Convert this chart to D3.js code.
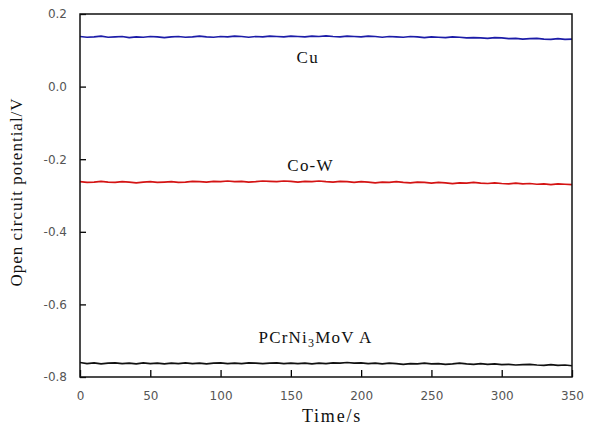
<!DOCTYPE html>
<html>
<head>
<meta charset="utf-8">
<script src="https://cdn.jsdelivr.net/npm/d3@7"></script>
<style>
  body { margin: 0; background: #fff; }
  svg { display: block; }
</style>
</head>
<body>
<svg id="chart" width="597" height="425"></svg>
<script>
// time axis: a reading every 5 s, 0..350
const times = d3.range(0, 351, 5)
const xTicks = [0, 50, 100, 150, 200, 250, 300, 350]
const yTicks = [-0.8, -0.6, -0.4, -0.2, 0.0, 0.2]

// open circuit potential (V)
const cu = [0.138,0.136,0.137,0.139,0.136,0.137,0.138,0.135,0.137,0.136,
  0.138,0.137,0.135,0.137,0.138,0.136,0.137,0.139,0.137,0.136,
  0.138,0.137,0.139,0.138,0.136,0.138,0.137,0.139,0.138,0.137,
  0.139,0.138,0.137,0.139,0.138,0.140,0.138,0.137,0.139,0.138,
  0.137,0.139,0.138,0.136,0.138,0.137,0.136,0.138,0.137,0.135,
  0.137,0.136,0.135,0.137,0.136,0.134,0.135,0.134,0.133,0.135,
  0.134,0.132,0.133,0.131,0.132,0.133,0.131,0.130,0.132,0.130,0.131]

const coW = [-0.262,-0.264,-0.263,-0.261,-0.263,-0.264,-0.262,-0.263,-0.265,-0.263,
  -0.262,-0.264,-0.263,-0.262,-0.264,-0.263,-0.261,-0.262,-0.263,-0.261,
  -0.262,-0.260,-0.262,-0.261,-0.263,-0.262,-0.260,-0.261,-0.262,-0.260,
  -0.261,-0.263,-0.261,-0.262,-0.260,-0.262,-0.263,-0.261,-0.262,-0.264,
  -0.262,-0.263,-0.265,-0.263,-0.264,-0.262,-0.264,-0.265,-0.263,-0.264,
  -0.266,-0.264,-0.265,-0.267,-0.265,-0.266,-0.264,-0.266,-0.267,-0.265,
  -0.267,-0.268,-0.266,-0.268,-0.267,-0.269,-0.268,-0.270,-0.268,-0.269,-0.270]

const pcr = [-0.760,-0.763,-0.761,-0.764,-0.762,-0.761,-0.763,-0.762,-0.764,-0.761,
  -0.763,-0.762,-0.764,-0.762,-0.763,-0.761,-0.763,-0.762,-0.764,-0.762,
  -0.761,-0.763,-0.762,-0.763,-0.761,-0.762,-0.763,-0.762,-0.761,-0.763,
  -0.762,-0.763,-0.762,-0.764,-0.762,-0.763,-0.761,-0.762,-0.760,-0.762,
  -0.761,-0.763,-0.762,-0.764,-0.762,-0.763,-0.765,-0.763,-0.764,-0.762,
  -0.764,-0.763,-0.765,-0.764,-0.762,-0.764,-0.765,-0.763,-0.765,-0.764,
  -0.766,-0.765,-0.767,-0.766,-0.765,-0.767,-0.768,-0.766,-0.768,-0.767,-0.769]

const series = [
  { name: 'Cu', values: cu, color: '#1c1ca8', labelT: 162, labelV: 0.066 },
  { name: 'Co-W', values: coW, color: '#d41414', labelT: 164, labelV: -0.233 },
  { name: 'PCrNi3MoV A', values: pcr, color: '#111', labelT: 127, labelV: -0.706 }
]

const margin = {top: 14, right: 25, bottom: 48, left: 80}
const width = 597 - margin.left - margin.right
const height = 425 - margin.top - margin.bottom

const svg = d3.select('#chart')
  .append('g')
  .attr('transform', `translate(${margin.left},${margin.top})`)

var x = d3.scaleLinear().domain([0, 350]).range([0, width])
var y = d3.scaleLinear().domain([-0.8, 0.2]).range([height, 0])

// axes, ticks pointing inwards
const xAxis = svg.append('g')
  .attr('transform', `translate(0,${height})`)
  .call(d3.axisBottom(x).tickValues(xTicks).tickSizeInner(-7).tickSizeOuter(0).tickPadding(14))
const yAxis = svg.append('g')
  .call(d3.axisLeft(y).tickValues(yTicks).tickSizeInner(-6).tickSizeOuter(0).tickPadding(13)
    .tickFormat(d => d.toFixed(1)))

;[xAxis, yAxis].forEach(a => {
  a.select('.domain').remove()
  a.selectAll('line').attr('stroke', '#000').attr('stroke-width', 1.3)
  a.selectAll('text')
    .style('font-family', '"DejaVu Sans", sans-serif')
    .style('font-size', '12px')
    .attr('fill', '#555')
})

// the lines
const line = (vals) => d3.line()
  .x((d, i) => x(times[i]))
  .y(d => y(d))(vals)

series.forEach(s => {
  svg.append('path')
    .attr('d', line(s.values))
    .attr('fill', 'none')
    .attr('stroke', s.color)
    .attr('stroke-width', 1.7)
})

// frame
svg.append('rect')
  .attr('width', width)
  .attr('height', height)
  .attr('fill', 'none')
  .attr('stroke', '#111')
  .attr('stroke-width', 1.5)

// series labels
const serif = '"Liberation Serif", "Times New Roman", serif'
series.forEach(s => {
  const t = svg.append('text')
    .attr('x', x(s.labelT))
    .attr('y', y(s.labelV))
    .style('font-family', serif)
    .style('font-size', '17px')
    .style('letter-spacing', '1.2px')
    .attr('fill', '#111')
  if (s.name === 'PCrNi3MoV A') {
    t.append('tspan').text('PCrNi')
    t.append('tspan').text('3').attr('font-size', '12px').attr('dy', 4)
    t.append('tspan').text('MoV A').attr('dy', -4)
  } else {
    t.text(s.name).attr('text-anchor', 'middle')
  }
})

// axis titles
svg.append('text')
  .attr('x', width / 2 + 6)
  .attr('y', height + 45)
  .attr('text-anchor', 'middle')
  .style('font-family', serif)
  .style('font-size', '18px')
  .style('letter-spacing', '1.8px')
  .attr('fill', '#111')
  .text('Time/s')

svg.append('text')
  .attr('transform', `translate(${-58},${178}) rotate(-90)`)
  .attr('text-anchor', 'middle')
  .style('font-family', serif)
  .style('font-size', '17px')
  .style('letter-spacing', '1px')
  .attr('fill', '#111')
  .text('Open circuit potential/V')
</script>
</body>
</html>
